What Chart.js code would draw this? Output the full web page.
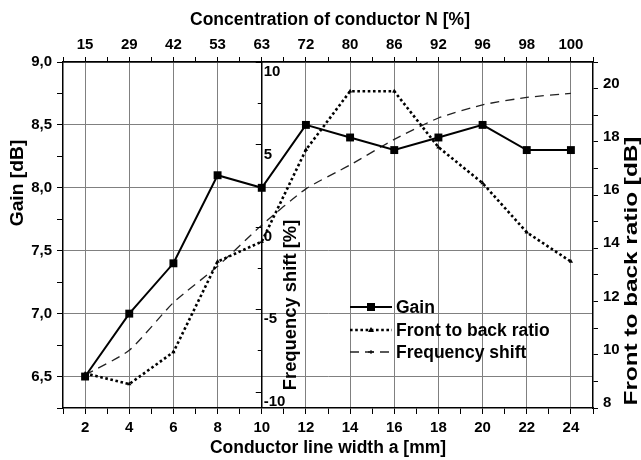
<!DOCTYPE html>
<html>
<head>
<meta charset="utf-8">
<script src="https://cdn.jsdelivr.net/npm/chart.js@4.4.0/dist/chart.umd.min.js"></script>
<style>
  html, body { margin: 0; padding: 0; background: #fff; }
  #wrap { width: 641px; height: 460px; }
</style>
</head>
<body>
<div id="wrap"><canvas id="chart" width="641" height="460"></canvas></div>
<script>
// conductor line width a [mm] and matching concentration N [%]
const widths = [2, 4, 6, 8, 10, 12, 14, 16, 18, 20, 22, 24];
const concentration = ['15', '29', '42', '53', '63', '72', '80', '86', '92', '96', '98', '100'];

const gain = [6.5, 7.0, 7.4, 8.1, 8.0, 8.5, 8.4, 8.3, 8.4, 8.5, 8.3, 8.3];
const frontToBack = [9.3, 8.9, 10.1, 13.5, 14.25, 17.7, 19.9, 19.9, 17.8, 16.45, 14.6, 13.5];
const freqShift = [-9.0, -7.5, -4.6, -2.4, 0.1, 2.3, 3.75, 5.3, 6.6, 7.4, 7.85, 8.1];

const freqTicks = [10, 5, 0, -5, -10];

const FONT = "'Liberation Sans', Arial, sans-serif";
const tickFont = { family: FONT, size: 15, weight: 'bold' };
const GRID = '#808080';

const pts = arr => arr.map((v, i) => ({ x: widths[i], y: v }));

// titles, legend and the middle frequency-shift axis
const extras = {
  id: 'extras',
  afterDraw(chart) {
    const ctx = chart.ctx;
    const area = chart.chartArea;
    const xs = chart.scales.x;
    const yF = chart.scales.yF;
    ctx.save();

    // middle axis at a = 10 mm
    const ax = xs.getPixelForValue(10);
    ctx.strokeStyle = '#000';
    ctx.lineWidth = 1.5;
    ctx.beginPath();
    ctx.moveTo(ax, area.top);
    ctx.lineTo(ax, area.bottom);
    ctx.stroke();
    ctx.lineWidth = 1;
    for (let v = -10; v <= 10; v += 2.5) {
      const y = Math.round(yF.getPixelForValue(v)) + 0.5;
      const len = v % 5 === 0 ? 6 : 4;
      ctx.beginPath();
      ctx.moveTo(ax - len, y);
      ctx.lineTo(ax, y);
      ctx.stroke();
    }
    ctx.fillStyle = '#000';
    ctx.font = 'bold 15px ' + FONT;
    ctx.textAlign = 'left';
    ctx.textBaseline = 'middle';
    freqTicks.forEach(v => {
      ctx.fillText(String(v), ax + 2, yF.getPixelForValue(v) + 10);
    });

    // axis titles
    ctx.font = 'bold 17.5px ' + FONT;
    ctx.textAlign = 'center';
    const title = (text, cx, cy, rot, stretch) => {
      ctx.save();
      ctx.translate(cx, cy);
      if (rot) ctx.rotate(-Math.PI / 2);
      ctx.scale(stretch, 1);
      ctx.fillText(text, 0, 0);
      ctx.restore();
    };
    title('Concentration of conductor N [%]', 330, 20, false, 1);
    title('Conductor line width a [mm]', 328, 448, false, 1);
    title('Gain [dB]', 18, 183, true, 1.1);
    title('Front to back ratio [dB]', 632, 271, true, 1.39);
    title('Frequency shift [%]', 291, 305, true, 1.05);

    // legend
    const ds = chart.data.datasets;
    const lx0 = 350, lx1 = 392, tx = 396;
    const rows = [307, 330, 352];
    ctx.textAlign = 'left';
    ds.forEach((d, i) => {
      const y = rows[i];
      ctx.save();
      ctx.strokeStyle = d.borderColor;
      ctx.lineWidth = d.borderWidth;
      ctx.setLineDash(d.borderDash || []);
      ctx.beginPath();
      ctx.moveTo(lx0, y);
      ctx.lineTo(lx1, y);
      ctx.stroke();
      ctx.restore();
      const mx = (lx0 + lx1) / 2;
      if (i === 0) {
        ctx.fillRect(mx - 4, y - 4, 8, 8);
      } else if (i === 1) {
        ctx.beginPath();
        ctx.moveTo(mx, y - 3);
        ctx.lineTo(mx + 3, y + 2);
        ctx.lineTo(mx - 3, y + 2);
        ctx.closePath();
        ctx.fill();
      } else {
        ctx.fillRect(mx - 3, y - 0.5, 6, 1);
        ctx.fillRect(mx - 0.5, y - 2, 1, 4);
      }
      ctx.fillText(d.label, tx, y + 1);
    });
    ctx.restore();
  }
};

new Chart(document.getElementById('chart').getContext('2d'), {
  type: 'line',
  data: {
    datasets: [
      {
        label: 'Gain',
        data: pts(gain),
        yAxisID: 'y',
        borderColor: '#000',
        backgroundColor: '#000',
        borderWidth: 2,
        pointStyle: 'rect',
        pointRadius: 5.6,
        pointBorderWidth: 0,
        tension: 0
      },
      {
        label: 'Front to back ratio',
        data: pts(frontToBack),
        yAxisID: 'yR',
        borderColor: '#000',
        backgroundColor: '#000',
        borderWidth: 2.6,
        borderDash: [2.6, 2.6],
        pointStyle: 'triangle',
        pointRadius: 2.5,
        pointBorderWidth: 0,
        tension: 0
      },
      {
        label: 'Frequency shift',
        data: pts(freqShift),
        yAxisID: 'yF',
        borderColor: '#222',
        backgroundColor: '#222',
        borderWidth: 1.3,
        borderDash: [9, 6],
        pointRadius: 0,
        tension: 0.2
      }
    ]
  },
  options: {
    responsive: false,
    animation: false,
    layout: { padding: 0 },
    plugins: { legend: { display: false }, tooltip: { enabled: false } },
    scales: {
      x: {
        type: 'linear', position: 'bottom', min: 1, max: 25,
        afterFit: s => { s.height = 52; },
        ticks: {
          stepSize: 1, autoSkip: false, maxRotation: 0, padding: 5,
          font: tickFont, color: '#000',
          callback: v => v % 2 === 0 ? String(v) : ''
        },
        grid: {
          color: c => c.tick && c.tick.value % 2 === 0 ? GRID : 'rgba(0,0,0,0)',
          tickColor: '#000', tickLength: 6, lineWidth: 1
        },
        border: { color: '#000', width: 1.5 }
      },
      x2: {
        type: 'linear', position: 'top', min: 1, max: 25,
        afterFit: s => { s.height = 62; },
        ticks: {
          stepSize: 1, autoSkip: false, maxRotation: 0, padding: 3,
          font: tickFont, color: '#000',
          callback: v => v % 2 === 0 ? concentration[(v - 2) / 2] : ''
        },
        grid: { drawOnChartArea: false, tickColor: '#000', tickLength: 5 },
        border: { color: '#000', width: 1.5 }
      },
      y: {
        type: 'linear', position: 'left', min: 6.25, max: 9,
        afterFit: s => { s.width = 63; },
        ticks: {
          stepSize: 0.25, autoSkip: false, padding: 5,
          font: tickFont, color: '#000',
          callback: v => Math.round(v * 100) % 50 === 0 ? v.toFixed(1).replace('.', ',') : ''
        },
        grid: {
          color: c => c.tick && Math.round(c.tick.value * 100) % 50 === 0 ? GRID : 'rgba(0,0,0,0)',
          tickColor: '#000', tickLength: 6, lineWidth: 1
        },
        border: { color: '#000', width: 1.5 }
      },
      yR: {
        type: 'linear', position: 'right', min: 8, max: 21,
        afterFit: s => { s.width = 48; },
        ticks: {
          stepSize: 1, autoSkip: false, padding: 5, labelOffset: -5,
          font: tickFont, color: '#000',
          callback: v => v % 2 === 0 ? String(v) : ''
        },
        grid: { drawOnChartArea: false, tickColor: '#000', tickLength: 5 },
        border: { color: '#000', width: 1.5 }
      },
      yF: {
        type: 'linear', display: false, min: -11, max: 10
      }
    }
  },
  plugins: [extras]
});
</script>
</body>
</html>
